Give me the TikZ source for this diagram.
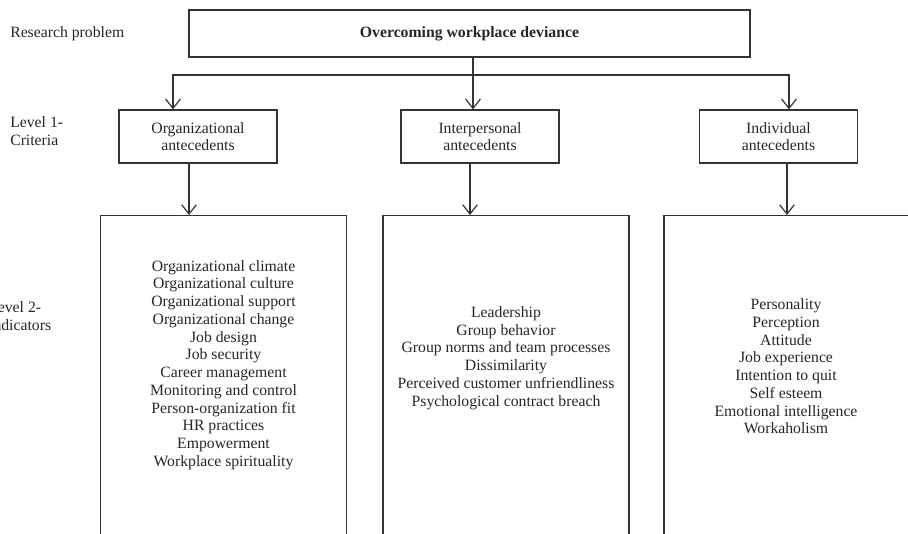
\documentclass[tikz,border=0pt]{standalone}
\usepackage{fontspec}
\setmainfont{Liberation Serif}
\usepackage{xcolor}
\usepackage{tikz}
\usetikzlibrary{arrows.meta,positioning,calc}

\begin{document}
\begin{tikzpicture}[x=0.75pt, y=-0.75pt, font=\fontsize{11.8}{13.3}\selectfont,
  every node/.style={text=black!85},
  topbox/.style={rectangle, draw=black!80, line width=0.9pt, minimum width=420.75pt, minimum height=35.25pt, font=\fontsize{11.8}{13.3}\selectfont\bfseries},
  critbox/.style={rectangle, draw=black!80, line width=0.9pt, minimum width=118.5pt, minimum height=39.75pt, align=center},
  indbox/.style={rectangle, draw=black!80, line width=0.9pt, minimum width=184.5pt, minimum height=300pt, anchor=north},
  itemlist/.style={align=center, inner sep=0pt},
  sidelabel/.style={anchor=west, align=left, inner sep=0pt},
  line/.style={draw=black!80, line width=0.9pt},
  arrow/.style={line, -{Straight Barb[length=7pt, width=11pt, line width=0.9pt]}}]
  \useasboundingbox (0,0) rectangle (908,534);
  \clip (0,0) rectangle (908,534);

  % side labels
  \node [sidelabel] (lprob) at (10,34) {Research problem};
  \node [sidelabel] (lcrit) at (10,131) {Level 1-\\Criteria};
  \node [sidelabel] (lind) at (-12,316) {Level 2-\\Indicators};

  % problem and criteria
  \node [topbox] (prob) at (469.5,33.5) {Overcoming workplace deviance};
  \node [critbox] (org) at (198,136.5) {Organizational\\antecedents};
  \node [critbox] (inter) at (480,136.5) {Interpersonal\\antecedents};
  \node [critbox] (indiv) at (778.5,136.5) {Individual\\antecedents};

  % indicator boxes
  \node [indbox] (orgbox) at (223.5,215) {};
  \node [indbox] (interbox) at (506,215) {};
  \node [indbox] (indivbox) at (787,215) {};

  \node [itemlist] (orglist) at (223.5,365) {Organizational climate\\Organizational culture\\Organizational support\\Organizational change\\Job design\\Job security\\Career management\\Monitoring and control\\Person-organization fit\\HR practices\\Empowerment\\Workplace spirituality};
  \node [itemlist] (interlist) at (506,358) {Leadership\\Group behavior\\Group norms and team processes\\Dissimilarity\\Perceived customer unfriendliness\\Psychological contract breach};
  \node [itemlist] (indivlist) at (786,366.5) {Personality\\Perception\\Attitude\\Job experience\\Intention to quit\\Self esteem\\Emotional intelligence\\Workaholism};

  % connectors
  \coordinate (split) at (473,75);
  \coordinate (orgdown) at ($(org.south)+(-9,0)$);
  \coordinate (interdown) at ($(inter.south)+(-10,0)$);
  \coordinate (indivdown) at ($(indiv.south)+(8.5,0)$);
  \path [line] (prob.south -| split) -- (split);
  \path [arrow] (split) -| ($(org.north)+(-25,0)$);
  \path [arrow] (split) -- (inter.north -| split);
  \path [arrow] (split) -| ($(indiv.north)+(10.5,0)$);
  \path [arrow] (orgdown) -- (orgdown |- orgbox.north);
  \path [arrow] (interdown) -- (interdown |- interbox.north);
  \path [arrow] (indivdown) -- (indivdown |- indivbox.north);
\end{tikzpicture}
\end{document}
